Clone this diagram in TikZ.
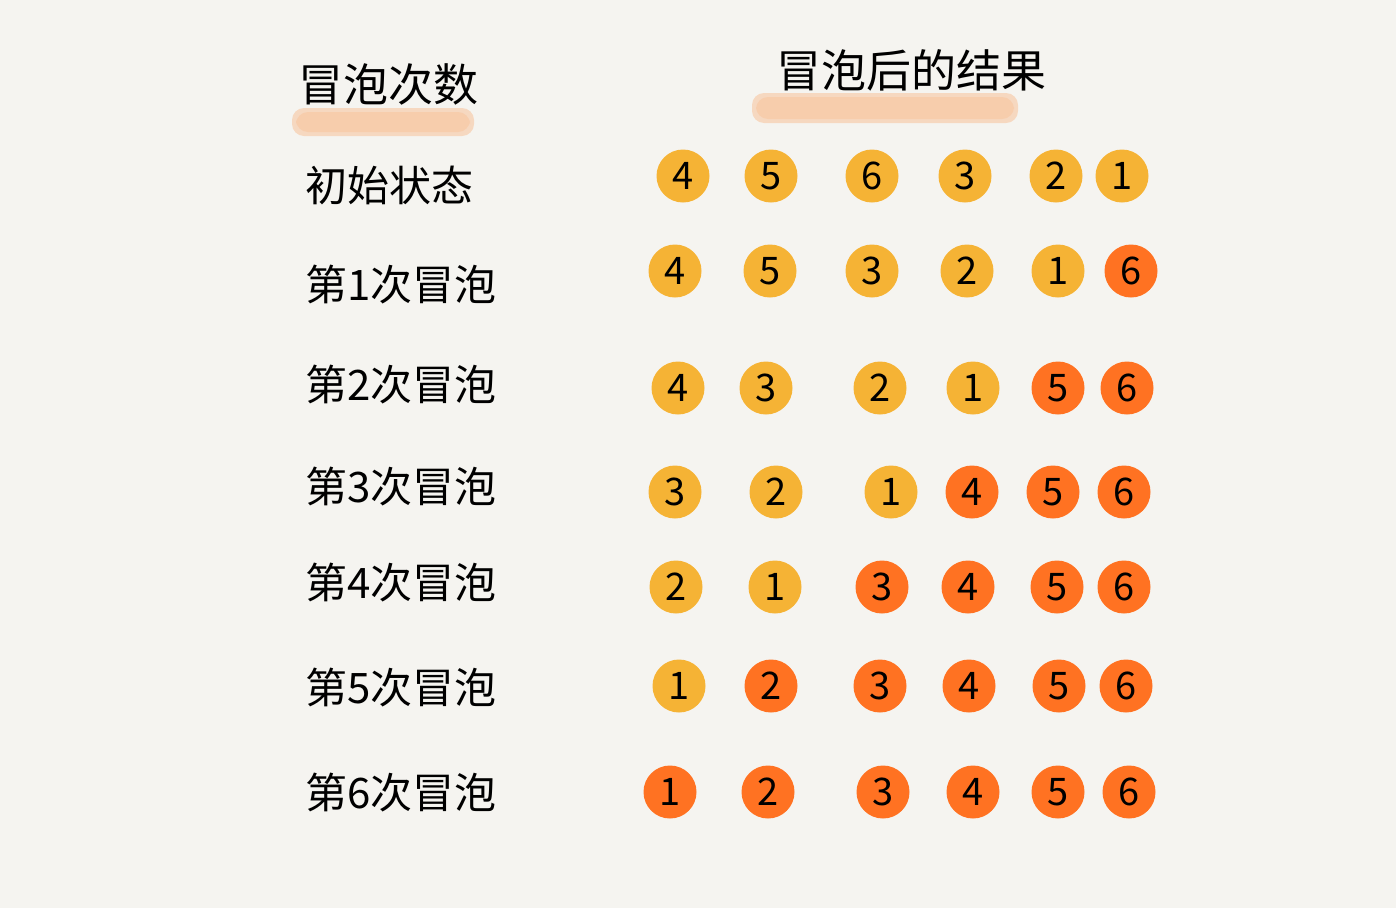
\documentclass[tikz,border=0pt]{standalone}
\usepackage{fontspec}
\newfontfamily\cjk{Noto Sans CJK SC}
\usetikzlibrary{positioning}
\definecolor{BGPaper}{HTML}{F5F4F0}
\definecolor{BallYellow}{HTML}{F5B335}
\definecolor{BallOrange}{HTML}{FF7222}
\definecolor{Marker}{HTML}{F8C6A0}

\begin{document}
\begin{tikzpicture}[x=1pt, y=-1pt,
    ball/.style={circle, inner sep=0pt, minimum size=53pt,
                 font=\cjk\fontsize{38}{38}\selectfont},
    lbl/.style={anchor=west, inner sep=0pt,
                font=\cjk\fontsize{42}{42}\selectfont},
    head/.style={anchor=west, inner sep=0pt,
                 font=\cjk\fontsize{45}{45}\selectfont},
    marker/.style={fill=Marker, rounded corners=12pt, opacity=0.6}
  ]
  \fill[BGPaper] (0,0) rectangle (1396,908);
  \useasboundingbox (0,0) rectangle (1396,908);

  % Headers with marker underline
  \fill[marker] (292,108) rectangle (474,136);
  \fill[marker] (296,112) rectangle (470,132);
  \fill[marker] (752,93) rectangle (1018,123);
  \fill[marker] (756,97) rectangle (1014,119);
  \node[head] (hcount) at (298,84) {冒泡次数};
  \node[head] (hresult) at (776,70) {冒泡后的结果};

  % One row per pass: label, then the six balls
  \foreach \k/\y/\ly/\lab/\vals in {
      0/176/185/初始状态/{4/683,5/771,6/872,3/965,2/1056,1/1122},
      1/271/285/第1次冒泡/{4/675,5/770,3/872,2/967,1/1058,6/1131},
      2/388/385/第2次冒泡/{4/678,3/766,2/880,1/973,5/1058,6/1127},
      3/492/487/第3次冒泡/{3/675,2/776,1/891,4/972,5/1053,6/1124},
      4/587/583/第4次冒泡/{2/676,1/775,3/882,4/968,5/1057,6/1124},
      5/686/688/第5次冒泡/{1/679,2/771,3/880,4/969,5/1059,6/1126},
      6/792/793/第6次冒泡/{1/670,2/768,3/883,4/973,5/1058,6/1129}} {
    \node[lbl] (pass\k) at (305,\ly) {\lab};
    \foreach \v/\x [count=\i] in \vals {
      \ifnum\numexpr\i+\k\relax>6 \def\ballcol{BallOrange}\else\def\ballcol{BallYellow}\fi
      \node[ball, fill=\ballcol] (ball\k-\i) at (\x,\y) {\v};
    }
  }
\end{tikzpicture}
\end{document}
